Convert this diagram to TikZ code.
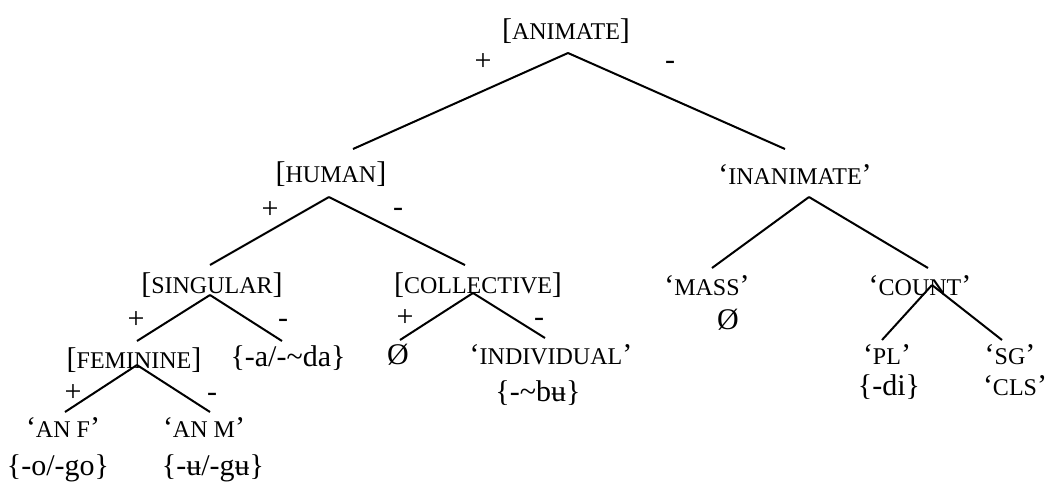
\documentclass[tikz,border=0pt]{standalone}
\usepackage{fontspec}
\setmainfont{Liberation Serif}
\usepackage{tikz}
\usetikzlibrary{calc}
\newcommand{\fsc}[1]{{\fontsize{9.6}{10}\selectfont #1}}
\tikzset{
  %% Feature labels (small caps)
  featnode/.style={
    inner sep=0pt, font=\fontsize{12}{14}\selectfont},
  %% Exponents / morph forms
  morphnode/.style={
    inner sep=0pt, font=\fontsize{12}{14}\selectfont},
  %% Plus / minus values
  valnode/.style={
    inner sep=0pt, font=\fontsize{12}{14}\selectfont},
  %% Branches
  branch/.style={line width=0.8pt, black},
}

\begin{document}
\begin{tikzpicture}[x=0.4pt, y=-0.4pt]
  \useasboundingbox (0,0) rectangle (1049,482);

  %% Top level
  \node[featnode] (animate)   at (566,31)  {[\fsc{ANIMATE}]};
  \node[featnode] (human)     at (331,174) {[\fsc{HUMAN}]};
  \node[featnode] (inanimate) at (795,175) {‘\fsc{INANIMATE}’};

  \draw[branch] ($(animate)+(2,22)$) -- ($(human)+(22,-25)$);
  \draw[branch] ($(animate)+(2,22)$) -- ($(inanimate)+(-10,-26)$);
  \node[valnode] (pA) at (483,62) {+};
  \node[valnode] (mA) at (670,65) {-};

  %% Human branch
  \node[featnode] (singular)   at (212,285) {[\fsc{SINGULAR}]};
  \node[featnode] (collective) at (478,285) {[\fsc{COLLECTIVE}]};

  \draw[branch] ($(human)+(-2,23)$) -- ($(singular)+(-2,-20)$);
  \draw[branch] ($(human)+(-2,23)$) -- ($(collective)+(-13,-20)$);
  \node[valnode] (pH) at (270,210) {+};
  \node[valnode] (mH) at (398,212) {-};

  %% Inanimate branch
  \node[featnode] (mass)  at (707,286) {‘\fsc{MASS}’};
  \node[featnode] (count) at (920,286) {‘\fsc{COUNT}’};
  \node[morphnode] (zeroM) at (728,320) {Ø};

  \draw[branch] ($(inanimate)+(14,22)$) -- ($(mass)+(5,-18)$);
  \draw[branch] ($(inanimate)+(14,22)$) -- ($(count)+(8,-18)$);

  %% Singular
  \node[featnode]  (feminine) at (134,360) {[\fsc{FEMININE}]};
  \node[morphnode] (da)       at (288,358) {\{-a/-\textasciitilde da\}};

  \draw[branch] ($(singular)+(-2,10)$) -- ($(feminine)+(3,-19)$);
  \draw[branch] ($(singular)+(-2,10)$) -- ($(da)+(-6,-17)$);
  \node[valnode] (pS) at (136,320) {+};
  \node[valnode] (mS) at (283,323) {-};

  %% Collective
  \node[morphnode] (zeroC)      at (398,355) {Ø};
  \node[featnode]  (individual) at (551,355) {‘\fsc{INDIVIDUAL}’};
  \node[morphnode] (bu)         at (538,393) {\{-\textasciitilde bʉ\}};

  \draw[branch] ($(collective)+(-5,8)$) -- ($(zeroC)+(2,-15)$);
  \draw[branch] ($(collective)+(-5,8)$) -- ($(individual)+(-6,-17)$);
  \node[valnode] (pC) at (405,318) {+};
  \node[valnode] (mC) at (539,322) {-};

  %% Count
  \node[featnode]  (pl)  at (887,355)  {‘\fsc{PL}’};
  \node[featnode]  (sg)  at (1010,355) {‘\fsc{SG}’};
  \node[morphnode] (di)  at (889,387)  {\{-di\}};
  \node[featnode]  (cls) at (1015,386) {‘\fsc{CLS}’};

  \draw[branch] ($(count)+(12,-1)$) -- ($(pl)+(-5,-15)$);
  \draw[branch] ($(count)+(12,-1)$) -- ($(sg)+(-8,-15)$);

  %% Feminine
  \node[featnode]  (anf) at (63,428)  {‘\fsc{AN F}’};
  \node[featnode]  (anm) at (204,428) {‘\fsc{AN M}’};
  \node[morphnode] (go)  at (58,468)  {\{-o/-go\}};
  \node[morphnode] (gu)  at (213,468) {\{-ʉ/-gʉ\}};

  \draw[branch] ($(feminine)+(3,5)$) -- ($(anf)+(2,-16)$);
  \draw[branch] ($(feminine)+(3,5)$) -- ($(anm)+(6,-16)$);
  \node[valnode] (pF) at (73,393)  {+};
  \node[valnode] (mF) at (212,397) {-};

\end{tikzpicture}
\end{document}
